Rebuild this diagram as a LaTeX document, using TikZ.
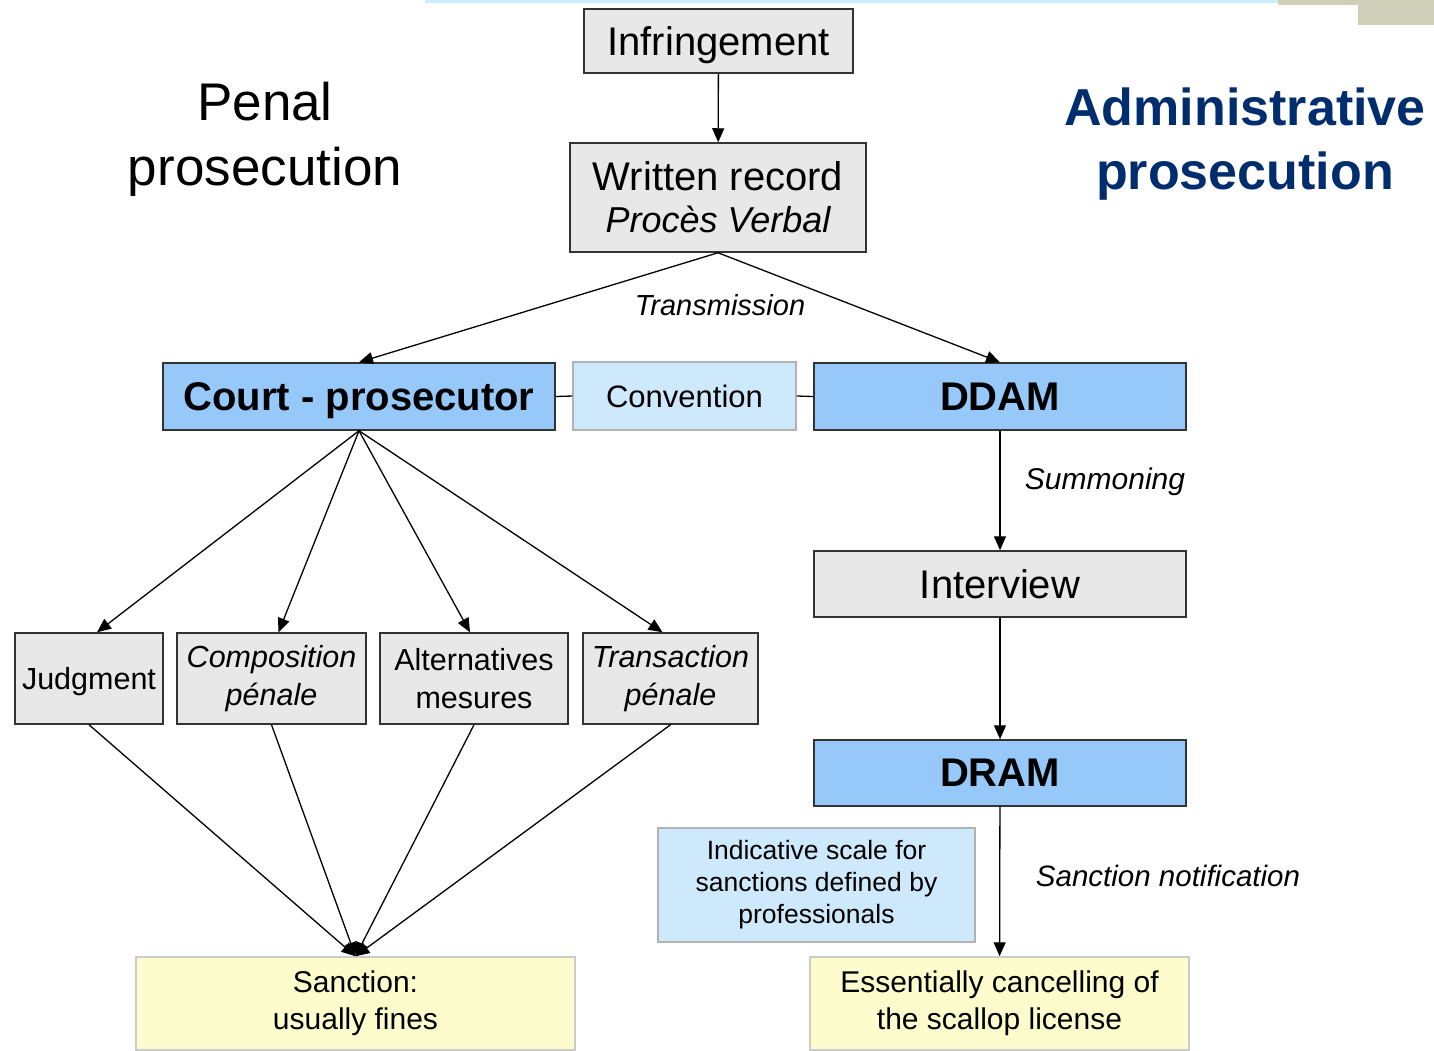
\documentclass[tikz,border=0pt]{standalone}
\usepackage{fontspec}
\setmainfont{Liberation Sans}
\usetikzlibrary{arrows.meta}
\definecolor{boxgrey}{RGB}{232,232,232}
\definecolor{boxblue}{RGB}{150,200,250}
\definecolor{paleblue}{RGB}{206,233,252}
\definecolor{paleyellow}{RGB}{252,252,204}
\definecolor{titleblue}{RGB}{0,45,110}
\definecolor{topband}{RGB}{204,236,255}
\definecolor{cornergrey}{RGB}{208,208,186}
\begin{document}
\begin{tikzpicture}[x=1pt,y=-1pt,
 box/.style={draw=black!80, line width=1.5pt, inner sep=0pt, align=center, anchor=center},
 greybox/.style={box, fill=boxgrey},
 bluebox/.style={box, fill=boxblue, text depth=0pt, font=\fontsize{40}{44}\selectfont\bfseries},
 palebox/.style={box, draw=black!30, fill=paleblue},
 yellowbox/.style={box, draw=black!20, fill=paleyellow, font=\fontsize{30}{37}\selectfont},
 arr/.style={-{Triangle[length=14pt,width=12pt]}, line width=1.3pt},
 plain/.style={line width=1.3pt},
 lbl/.style={font=\fontsize{29}{32}\selectfont\itshape, inner sep=0pt}
]
\useasboundingbox (0,0) rectangle (1434,1050);
\fill[white] (0,0) rectangle (1434,1050);
\fill[topband] (425,0) rectangle (1434,3);
\fill[cornergrey] (1278,0) rectangle (1434,5);
\fill[cornergrey] (1358,0) rectangle (1434,25);

% titles
\node[align=center, inner sep=0pt, font=\fontsize{53}{65}\selectfont] (penal) at (265,139) {Penal\\prosecution};
\node[align=center, inner sep=0pt, text=titleblue, font=\fontsize{52}{64}\selectfont\bfseries] (admin) at (1245,144) {Administrative\\prosecution};

% boxes
\node[greybox, minimum width=269pt, minimum height=64pt, text depth=0pt, font=\fontsize{40}{44}\selectfont] (inf) at (718.5,41) {Infringement};
\node[greybox, minimum width=296pt, minimum height=109pt, font=\fontsize{40}{42}\selectfont] (wr) at (718,197.5)
  {Written record\\{\fontsize{36}{42}\selectfont\itshape Procès Verbal}};
\node[bluebox, minimum width=392pt, minimum height=67pt] (court) at (359,396.5) {Court - prosecutor};
\node[palebox, minimum width=223pt, minimum height=68pt, text depth=0pt, font=\fontsize{31}{36}\selectfont] (conv) at (684.5,396) {Convention};
\node[bluebox, minimum width=372pt, minimum height=67pt] (ddam) at (1000,396.5) {DDAM};
\node[greybox, minimum width=372pt, minimum height=66pt, text depth=0pt, font=\fontsize{40}{44}\selectfont] (interview) at (1000,584) {Interview};
\node[bluebox, minimum width=372pt, minimum height=66pt] (dram) at (1000,773) {DRAM};
\node[palebox, minimum width=317pt, minimum height=114pt, font=\fontsize{26.5}{32}\selectfont] (scale) at (816.5,885)
  {Indicative scale for\\sanctions defined by\\professionals};
\node[yellowbox, minimum width=379pt, minimum height=93pt] (ess) at (999.5,1003.5)
  {Essentially cancelling of\\the scallop license};

\node[greybox, minimum width=148pt, minimum height=91pt, text depth=0pt, font=\fontsize{30.5}{38}\selectfont] (judg) at (89,678.5) {Judgment};
\node[greybox, minimum width=189pt, minimum height=91pt, font=\fontsize{30.5}{38}\selectfont\itshape] (comp) at (271.5,678.5) {Composition\\pénale};
\node[greybox, minimum width=188pt, minimum height=91pt, font=\fontsize{30.5}{38}\selectfont] (alt) at (474,678.5) {Alternatives\\mesures};
\node[greybox, minimum width=175pt, minimum height=91pt, font=\fontsize{30.5}{38}\selectfont\itshape] (trans) at (670.5,678.5) {Transaction\\pénale};
\node[yellowbox, minimum width=439pt, minimum height=93pt] (sanc) at (355.5,1003.5) {Sanction:\\usually fines};

% connectors
\draw[arr] (inf) -- (wr);
\draw[arr] (wr.south) -- (court.north);
\draw[arr] (wr.south) -- (ddam.north);
\node[lbl] (transl) at (720,305) {Transmission};
\draw[plain] (court.east) -- (conv.west);
\draw[plain] (conv.east) -- (ddam.west);
\draw[arr] (ddam) -- (interview);
\node[lbl, font=\fontsize{30}{34}\selectfont\itshape] (summ) at (1105,482) {Summoning};
\draw[arr] (interview) -- (dram);
\draw[arr] (dram) -- (ess);
\node[lbl, font=\fontsize{29.5}{32}\selectfont\itshape] (notif) at (1168,876) {Sanction notification};

\draw[arr] (court.south) -- ([xshift=8pt]judg.north);
\draw[arr] (court.south) -- ([xshift=7pt]comp.north);
\draw[arr] (court.south) -- ([xshift=-4pt]alt.north);
\draw[arr] (court.south) -- ([xshift=-8pt]trans.north);

\draw[arr] (judg.south) -- (sanc.north);
\draw[arr] (comp.south) -- (sanc.north);
\draw[arr] (alt.south) -- (sanc.north);
\draw[arr] (trans.south) -- (sanc.north);
\end{tikzpicture}
\end{document}
